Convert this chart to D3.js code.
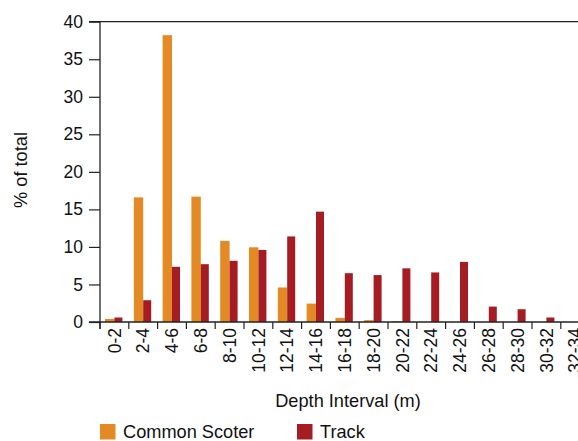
<!DOCTYPE html>
<html><head><meta charset="utf-8">
<script src="https://cdn.jsdelivr.net/npm/d3@7/dist/d3.min.js"></script>
<style>body{margin:0;background:#fff}svg{display:block;font-family:"Liberation Sans",Arial,Helvetica,sans-serif}</style>
</head><body><svg id="c" width="578" height="441"></svg>
<script>
const categories = ["0-2","2-4","4-6","6-8","8-10","10-12","12-14","14-16","16-18","18-20","20-22","22-24","24-26","26-28","28-30","30-32","32-34"];
const scoter = [0.4,16.6,38.2,16.7,10.8,9.95,4.6,2.45,0.55,0.25,0.1,0,0,0,0,0,0];
const track = [0.6,2.9,7.35,7.7,8.15,9.6,11.4,14.7,6.5,6.25,7.15,6.6,8.0,2.05,1.7,0.6,0];
const yTicks = [0,5,10,15,20,25,30,35,40];
const seriesNames = ["Common Scoter","Track"];
const colors = ["#E38A25","#A51C22"];

const svg = d3.select("#c");
const L = 100, T = 21.7, B = 322, R = 100 + 17*28.8;
const fs = 17.5, fsT = 18.2;
const x = d3.scaleBand().domain(categories).range([L, R]).padding(0);
const y = d3.scaleLinear().domain([0,40]).range([B, T]);

// bars
const bw = x.bandwidth();
const g = svg.append("g");
categories.forEach((c,i)=>{
  const cx = x(c) + bw/2;
  g.append("rect").attr("x", cx-9.4).attr("width", 9.4)
    .attr("y", y(scoter[i])).attr("height", B - y(scoter[i])).attr("fill", colors[0]);
  g.append("rect").attr("x", cx).attr("width", 8)
    .attr("y", y(track[i])).attr("height", B - y(track[i])).attr("fill", colors[1]);
});

// top line
svg.append("line").attr("x1", 89).attr("x2", 578).attr("y1", T).attr("y2", T).attr("stroke","#222").attr("stroke-width",1.3);

// y axis
const yAxis = d3.axisLeft(y).tickValues(yTicks).tickSize(11).tickPadding(6);
const ya = svg.append("g").attr("transform",`translate(${L},0)`).call(yAxis);
ya.select(".domain").remove();
ya.selectAll("line").attr("stroke","#222").attr("stroke-width",1.2);
ya.selectAll("text").attr("font-size",fs).attr("fill","#111").attr("font-family","Liberation Sans, Arial, sans-serif");
svg.append("line").attr("x1",L).attr("x2",L).attr("y1",T).attr("y2",B+7).attr("stroke","#222").attr("stroke-width",1.3);

// x axis baseline and ticks
svg.append("line").attr("x1", 89).attr("x2", 578).attr("y1", B).attr("y2", B).attr("stroke","#222").attr("stroke-width",1.3);
const xa = svg.append("g");
categories.forEach(c=>{
  xa.append("line").attr("x1", x(c)).attr("x2", x(c)).attr("y1", B).attr("y2", B+7).attr("stroke","#222").attr("stroke-width",1.2);
  xa.append("text").attr("transform",`translate(${x(c)+bw/2},${B+6}) rotate(-90)`)
    .attr("text-anchor","end").attr("dy","0.35em").attr("font-size",fs).attr("fill","#111").text(c);
});

// axis titles
svg.append("text").attr("x",348).attr("y",406.5).attr("text-anchor","middle").attr("font-size",fsT).attr("fill","#111").text("Depth Interval (m)");
svg.append("text").attr("transform","translate(26.5,170) rotate(-90)").attr("text-anchor","middle").attr("font-size",fsT).attr("fill","#111").text("% of total");

// legend
const legX = [100, 297];
seriesNames.forEach((n,i)=>{
  svg.append("rect").attr("x",legX[i]).attr("y",424).attr("width",15.5).attr("height",15.5).attr("fill",colors[i]);
  svg.append("text").attr("x",legX[i]+23).attr("y",437.5).attr("font-size",fsT).attr("fill","#111").text(n);
});
</script></body></html>
